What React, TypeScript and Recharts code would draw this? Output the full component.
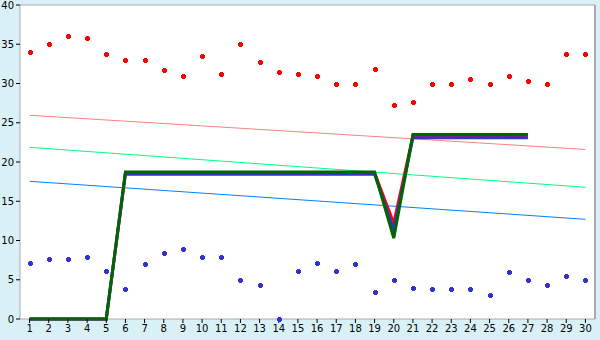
import {
  ComposedChart,
  Line,
  XAxis,
  YAxis,
  CartesianGrid,
} from "recharts";

const days = Array.from({ length: 30 }, (_, i) => String(i + 1));

const redPoints = [
  34, 35, 36, 35.8, 33.8, 33, 33, 31.7, 31, 33.5, 31.2, 35, 32.8, 31.5, 31.2,
  31, 30, 30, 31.9, 27.2, 27.7, 30, 30, 30.6, 30, 31, 30.3, 30, 33.8, 33.8,
];
const bluePoints = [
  7.1, 7.7, 7.6, 7.9, 6.1, 3.8, 7, 8.4, 8.9, 7.9, 7.9, 5, 4.3, 0, 6.1, 7.1,
  6.1, 7, 3.4, 5, 4, 3.8, 3.8, 3.8, 3.1, 6, 5, 4.3, 5.5, 5,
];

const redStep = [
  0, 0, 0, 0, 0, 18.6, 18.6, 18.6, 18.6, 18.6, 18.6, 18.6, 18.6, 18.6, 18.6,
  18.6, 18.6, 18.6, 18.6, 12.2, 23.3, 23.3, 23.3, 23.3, 23.3, 23.3, 23.3,
  null, null, null,
];
const blueStep = [
  0, 0, 0, 0, 0, 18.45, 18.45, 18.45, 18.45, 18.45, 18.45, 18.45, 18.45, 18.45,
  18.45, 18.45, 18.45, 18.45, 18.45, 11.3, 23.1, 23.1, 23.1, 23.1, 23.1, 23.1,
  23.1, null, null, null,
];
const greenStep = [
  0, 0, 0, 0, 0, 18.73, 18.73, 18.73, 18.73, 18.73, 18.73, 18.73, 18.73, 18.73,
  18.73, 18.73, 18.73, 18.73, 18.73, 10.3, 23.5, 23.5, 23.5, 23.5, 23.5, 23.5,
  23.5, null, null, null,
];

// trend lines: only start and end values, joined straight
const redTrend: (number | null)[] = days.map(() => null);
redTrend[0] = 25.95;
redTrend[29] = 21.6;
const greenTrend: (number | null)[] = days.map(() => null);
greenTrend[0] = 21.87;
greenTrend[29] = 16.78;
const blueTrend: (number | null)[] = days.map(() => null);
blueTrend[0] = 17.54;
blueTrend[29] = 12.7;

const yTicks = [0, 5, 10, 15, 20, 25, 30, 35, 40];

const data = days.map((d, i) => ({
  day: d,
  redPt: redPoints[i],
  bluePt: bluePoints[i],
  redStep: redStep[i],
  blueStep: blueStep[i],
  greenStep: greenStep[i],
  redTrend: redTrend[i],
  greenTrend: greenTrend[i],
  blueTrend: blueTrend[i],
}));

const GRID = "#AAAAAA";
const BG = "#D9F0F6";
const tickStyle = { fontFamily: "DejaVu Sans", fontSize: 10, fill: "#000" };

function marker(color: string) {
  // eslint-disable-next-line @typescript-eslint/no-explicit-any
  return (props: any) => {
    const { cx, cy, index } = props;
    if (cx == null || cy == null) return <g key={index} />;
    const x = Math.round(cx);
    const y = Math.round(cy);
    const d = `M${x - 1},${y - 2}h3v1h1v3h-1v1h-3v-1h-1v-3h1z`;
    return <path key={index} d={d} fill={color} stroke="none" shapeRendering="crispEdges" />;
  };
}

export default function App() {
  return (
    <div style={{ position: "fixed", left: 0, top: 0, width: 600, height: 340, background: BG }}>
      <ComposedChart
        width={600}
        height={340}
        data={data}
        margin={{ top: 5, right: 3, bottom: 0, left: 0 }}
      >
        <CartesianGrid vertical={false} stroke={GRID} fill="#FFFFFF" fillOpacity={1} />
        <XAxis
          dataKey="day"
          scale="band"
          height={21}
          tick={tickStyle}
          tickSize={4}
          tickMargin={2}
          interval={0}
          axisLine={false}
          tickLine={{ stroke: "#000" }}
        />
        <YAxis
          yAxisId="l"
          width={20}
          domain={[0, 40]}
          ticks={yTicks}
          tick={tickStyle}
          tickSize={4}
          tickMargin={2}
          axisLine={{ stroke: GRID }}
          tickLine={{ stroke: "#000" }}
        />
        <YAxis
          yAxisId="r"
          orientation="right"
          width={2}
          domain={[0, 40]}
          tick={false}
          tickLine={false}
          axisLine={{ stroke: GRID, strokeWidth: 2 }}
        />
        <Line yAxisId="l" dataKey="redTrend" stroke="#FF8080" strokeWidth={1} dot={false} connectNulls isAnimationActive={false} />
        <Line yAxisId="l" dataKey="greenTrend" stroke="#00FF80" strokeWidth={1} dot={false} connectNulls isAnimationActive={false} />
        <Line yAxisId="l" dataKey="blueTrend" stroke="#0080FF" strokeWidth={1} dot={false} connectNulls isAnimationActive={false} />
        <Line yAxisId="l" dataKey="redStep" stroke="#FF0000" strokeWidth={3} dot={false} isAnimationActive={false} />
        <Line yAxisId="l" dataKey="blueStep" stroke="#3333CC" strokeWidth={3} dot={false} isAnimationActive={false} />
        <Line yAxisId="l" dataKey="greenStep" stroke="#006600" strokeWidth={3} dot={false} isAnimationActive={false} />
        <Line yAxisId="l" dataKey="redPt" stroke="none" dot={marker("#FF0000")} activeDot={false} isAnimationActive={false} />
        <Line yAxisId="l" dataKey="bluePt" stroke="none" dot={marker("#3333CC")} activeDot={false} isAnimationActive={false} />
      </ComposedChart>
    </div>
  );
}
